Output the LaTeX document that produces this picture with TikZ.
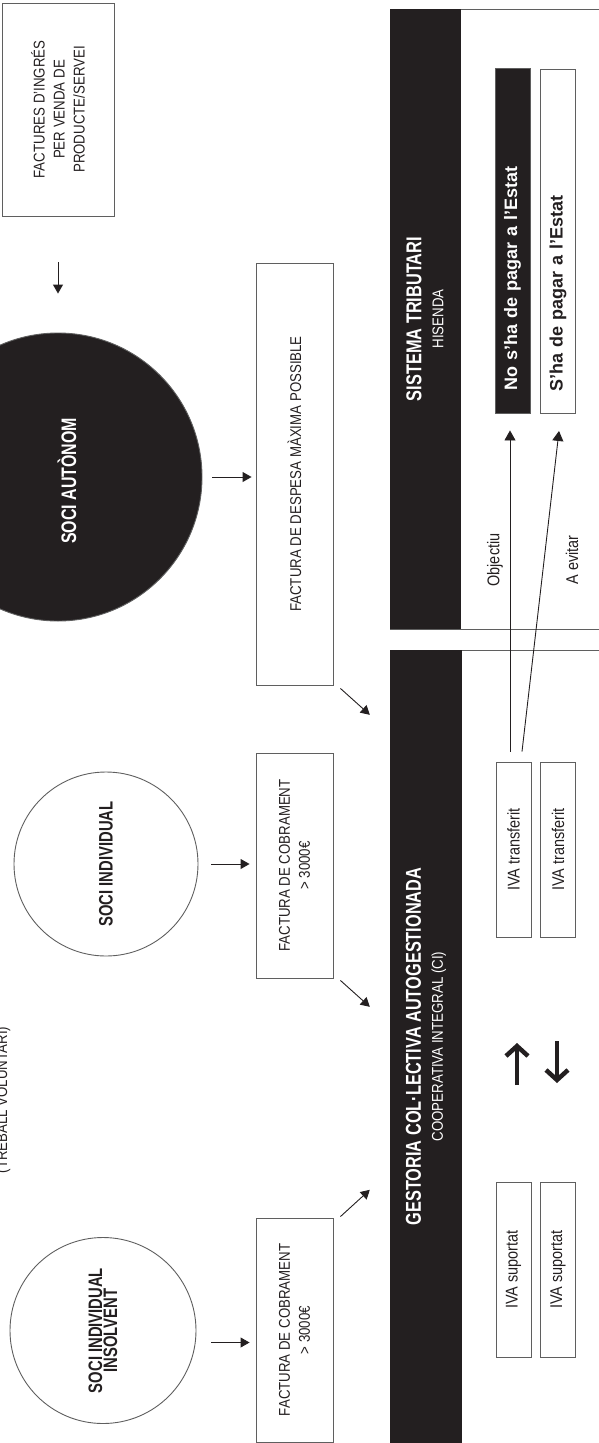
\documentclass[tikz,border=0pt]{standalone}
\usepackage{fontspec}
\setmainfont{Liberation Sans}
\newfontfamily\narrowfont{Liberation Sans}[FakeStretch=0.85]
\newfontfamily\heavyfont{Liberation Sans}[FakeStretch=0.76]
\definecolor{ink}{RGB}{35,31,32}
\definecolor{rulegray}{RGB}{95,95,95}
\usetikzlibrary{arrows.meta,calc}

\begin{document}
\begin{tikzpicture}[x=1pt, y=-1pt,
  docbox/.style={draw=rulegray, line width=0.9pt, rotate=90, align=center, inner sep=0pt, text=ink, font=\narrowfont\fontsize{15.6}{20}\selectfont},
  ivabox/.style={draw=rulegray, line width=0.9pt, rotate=90, inner sep=0pt, minimum width=175pt, minimum height=35pt, text=ink, font=\narrowfont\fontsize{17}{20}\selectfont},
  statebox/.style={draw=rulegray, line width=0.9pt, rotate=90, inner xsep=22pt, inner ysep=0pt, text width=300pt, align=left, minimum height=35pt, font=\bfseries\fontsize{18}{20}\selectfont},
  member/.style={circle, draw=rulegray, line width=0.9pt, align=center, inner sep=0pt, text=ink, font=\heavyfont\bfseries\fontsize{19.5}{15}\selectfont},
  band/.style={fill=ink, rotate=90, align=center, inner sep=0pt, text=white, font=\narrowfont\fontsize{15.6}{22}\selectfont},
  flow/.style={-{Triangle[width=10pt,length=9pt]}, line width=0.9pt, ink},
  swaparrow/.style={ink, line width=4.5pt, -{Straight Barb[width=22pt,length=10pt]}}]
  \useasboundingbox (0,0) rectangle (598,1443);

  \draw[rulegray, line width=0.9pt] (390,9) rectangle (640,629);
  \draw[rulegray, line width=0.9pt] (390,650) rectangle (640,1480);
  \node[band, minimum width=620pt, minimum height=71pt] (sistema) at (425,319) {{\heavyfont\bfseries\fontsize{21.5}{22}\selectfont SISTEMA TRIBUTARI}\\HISENDA};
  \node[band, minimum width=793pt, minimum height=72pt] (gestoria) at (426,1046.5) {{\heavyfont\bfseries\fontsize{21.5}{22}\selectfont GESTORIA COL·LECTIVA AUTOGESTIONADA}\\COOPERATIVA INTEGRAL (CI)};

  \node[docbox, minimum width=213pt, minimum height=112pt] (ingres) at (58,109.5) {FACTURES D’INGRÉS\\PER VENDA DE\\PRODUCTE/SERVEI};
  \node[docbox, minimum width=422pt, minimum height=77pt] (despesa) at (294.5,474) {FACTURA DE DESPESA MÀXIMA POSSIBLE};
  \node[docbox, minimum width=225pt, minimum height=77pt] (cobmid) at (294.5,865.5) {FACTURA DE COBRAMENT\\> 3000€};
  \node[docbox, minimum width=224pt, minimum height=77pt] (coblow) at (294.5,1330) {FACTURA DE COBRAMENT\\> 3000€};

  \node[member, fill=ink, minimum size=288pt] (autonom) at (58,477) {};
  \node[rotate=90, text=white, font=\heavyfont\bfseries\fontsize{21}{22}\selectfont] (autonomtxt) at (67,481) {SOCI AUTÒNOM};
  \node[member, minimum size=184pt, rotate=90] (indiv) at (106,864) {SOCI INDIVIDUAL};
  \node[member, minimum size=186pt, rotate=90] (insolv) at (103,1330.5) {SOCI INDIVIDUAL\\INSOLVENT};
  \node[rotate=90, anchor=base, text=ink, font=\narrowfont\fontsize{15.6}{20}\selectfont] (voluntari) at (7,1100) {(TREBALL VOLUNTARI)};

  \node[statebox, fill=ink, text=white, minimum width=345pt] (nopay) at (512.5,240.5) {No s’ha de pagar a l’Estat};
  \node[statebox, text=ink, minimum width=343pt] (ypay) at (558,241.5) {S’ha de pagar a l’Estat};

  \node[ivabox] (ivat1) at (513.5,849.5) {IVA transferit};
  \node[ivabox] (ivat2) at (558,849.5) {IVA transferit};
  \node[ivabox] (ivas1) at (513.5,1269.5) {IVA suportat};
  \node[ivabox] (ivas2) at (558,1269.5) {IVA suportat};

  \node[rotate=90, text=ink, font=\narrowfont\fontsize{17}{20}\selectfont] (objectiu) at (495,560) {Objectiu};
  \node[rotate=90, text=ink, font=\narrowfont\fontsize{17}{20}\selectfont] (evitar) at (572,560) {A evitar};

  \draw[flow, shorten <=46pt, shorten >=39pt] (ingres) -- (autonom);
  \draw[flow, shorten <=10pt, shorten >=4pt] (autonom.east) -- (autonom.east -| despesa.north);
  \draw[flow, shorten <=13pt, shorten >=6pt] (indiv.south) -- (indiv.south -| cobmid.north);
  \draw[flow, shorten <=15pt, shorten >=6pt] ($(insolv.south)+(0,12)$) -- ($(insolv.south -| coblow.north)+(0,12)$);
  \draw[flow] ($(despesa.south west)+(7,3)$) -- ($(gestoria.north east)+(-20,65)$);
  \draw[flow] ($(cobmid.south west)+(7,2)$) -- ($(gestoria.north east)+(-20,357)$);
  \draw[flow] ($(coblow.south east)+(7,-1)$) -- ($(gestoria.north east)+(-20,540)$);
  \draw[flow, -{Triangle[width=11pt,length=10pt]}] ($(ivat1.east)+(-3.5,-10)$) -- ($(nopay.west)+(-2.5,17)$);
  \draw[flow, -{Triangle[width=11pt,length=10pt]}] ($(ivat1.east)+(8.5,-10)$) -- ($(ypay.west)+(1,17)$);

  \coordinate (swap) at (537,1063);
  \draw[swaparrow] ($(swap)+(-20,22)$) -- ($(swap)+(-20,-20)$);
  \draw[swaparrow] ($(swap)+(20,-22)$) -- ($(swap)+(20,20)$);
\end{tikzpicture}
\end{document}
